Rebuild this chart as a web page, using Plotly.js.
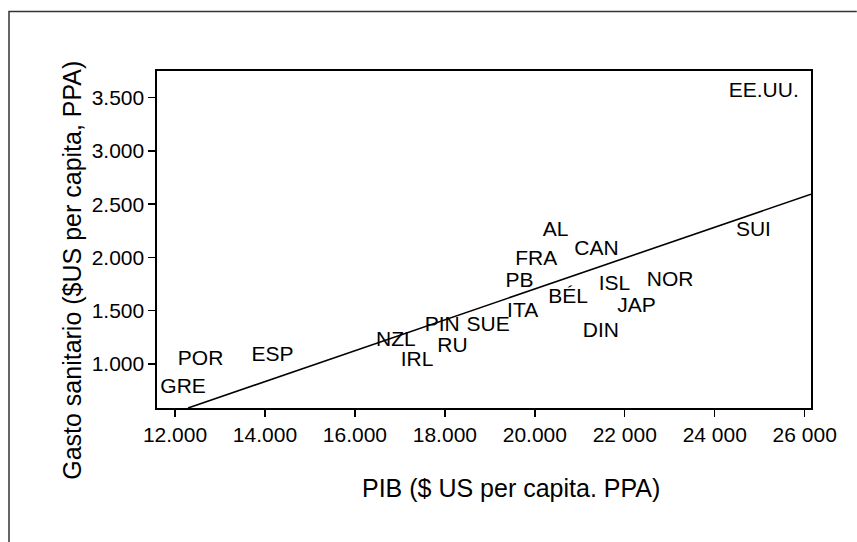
<!DOCTYPE html>
<html>
<head>
<meta charset="utf-8">
<script src="https://cdn.plot.ly/plotly-3.0.1.min.js"></script>
<style>
  html, body { margin: 0; padding: 0; background: #fff; overflow: hidden; }
  #chart { width: 857px; height: 542px; }
</style>
</head>
<body>
<div id="chart"></div>
<script>
// Gasto sanitario frente a PIB per cápita (PPA), países de la OCDE
const paises = ["EE.UU.", "AL", "CAN", "FRA", "SUI", "PB", "ISL", "NOR", "BÉL", "JAP",
                "ITA", "DIN", "NZL", "PIN", "SUE", "RU", "IRL", "POR", "ESP", "GRE"];
const pib    = [25090, 20460, 21370, 20030, 24860, 19660, 21770, 23010, 20740, 22260,
                19730, 21470, 16910, 17940, 18960, 18170, 17380, 12570, 14170, 12180];
const gasto  = [3556, 2247, 2071, 1977, 2255, 1768, 1742, 1778, 1625, 1539,
                1487, 1304, 1214, 1359, 1359, 1163, 1026, 1038, 1077, 773];

// Recta de regresión (extremos)
const rectaX = [12290, 26140];
const rectaY = [587, 2594];

// Marcas de los ejes
const xTicks = [12000, 14000, 16000, 18000, 20000, 22000, 24000, 26000];
const xTickText = ["12.000", "14.000", "16.000", "18.000", "20.000", "22 000", "24 000", "26 000"];
const yTicks = [1000, 1500, 2000, 2500, 3000, 3500];
const yTickText = ["1.000", "1.500", "2.000", "2.500", "3.000", "3.500"];

// Títulos de los ejes
const tituloX = "PIB ($ US per capita. PPA)";
const tituloY = "Gasto sanitario ($US per capita, PPA)";

const FONT = "Liberation Sans, Arial, Helvetica, sans-serif";

const traces = [
  {
    x: rectaX, y: rectaY,
    type: "scatter", mode: "lines",
    line: { color: "#000", width: 1.6 },
    hoverinfo: "skip", showlegend: false
  },
  {
    x: pib, y: gasto, text: paises,
    type: "scatter", mode: "text",
    textposition: "middle center",
    textfont: { family: FONT, size: 21, color: "#000" },
    cliponaxis: false,
    showlegend: false
  }
];

const axisCommon = {
  showline: true, linecolor: "#000", linewidth: 1.6, mirror: true,
  showgrid: false, zeroline: false,
  ticks: "outside", ticklen: 7, tickwidth: 1.4, tickcolor: "#000",
  tickfont: { family: FONT, size: 21, color: "#000" },
  fixedrange: true
};

const layout = {
  width: 857, height: 542,
  margin: { l: 157, r: 46, t: 71, b: 134 },
  paper_bgcolor: "#fff", plot_bgcolor: "#fff",
  font: { family: FONT, color: "#000" },
  xaxis: Object.assign({}, axisCommon, {
    range: [11600, 26140],
    tickvals: xTicks, ticktext: xTickText
  }),
  yaxis: Object.assign({}, axisCommon, {
    range: [587, 3750],
    tickvals: yTicks, ticktext: yTickText
  }),
  annotations: [
    {
      text: tituloX, xref: "paper", yref: "paper",
      x: 0.541, y: -0.238, xanchor: "center", yanchor: "middle",
      showarrow: false, font: { family: FONT, size: 25, color: "#000" }
    },
    {
      text: tituloY, xref: "paper", yref: "paper", textangle: -90,
      x: -0.130, y: 0.410, xanchor: "center", yanchor: "middle",
      showarrow: false, font: { family: FONT, size: 25, color: "#000" }
    }
  ],
  shapes: [
    {
      // marco exterior: bordes izquierdo y superior
      type: "path", xref: "paper", yref: "paper",
      path: "M -0.2263,-0.40 L -0.2263,1.1768 L 1.07,1.1768",
      line: { color: "#333", width: 1.5 }, layer: "below"
    }
  ]
};

Plotly.newPlot("chart", traces, layout, { displayModeBar: false, staticPlot: true });
</script>
</body>
</html>
